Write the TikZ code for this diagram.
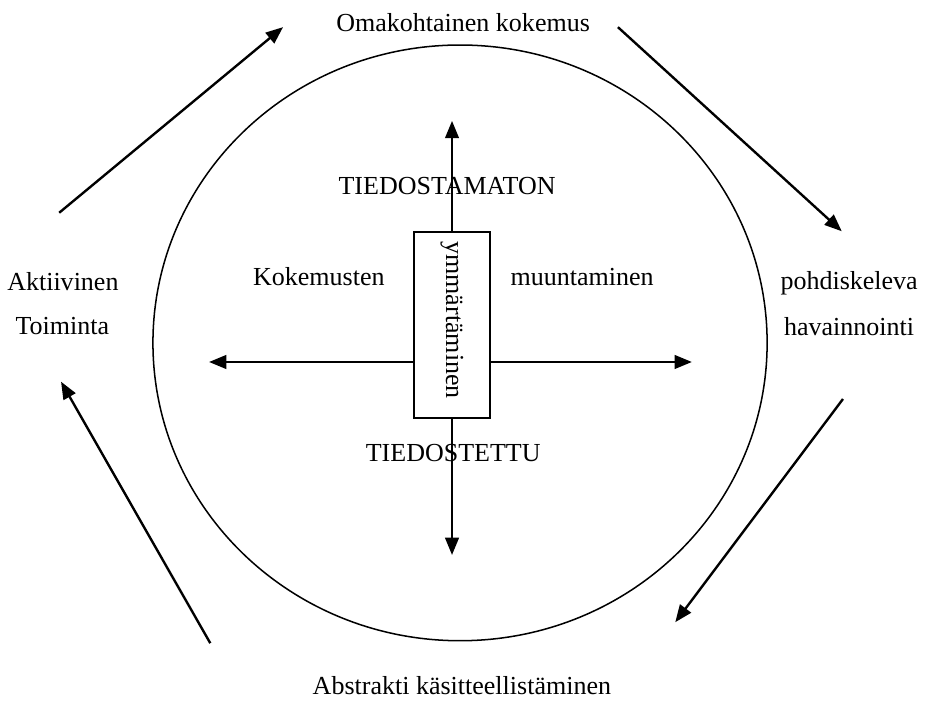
\documentclass[tikz,border=0pt,12pt]{standalone}
\usepackage{fontspec}
\setmainfont{Liberation Serif}
\usepackage{tikz}
\usetikzlibrary{
    arrows.meta,
    calc,
    positioning
}

\begin{document}
\begin{tikzpicture}[>={Triangle[length=2.8mm,width=2.2mm]}]
                        \useasboundingbox (0, 0) rectangle (15, -11.40);
                        \draw[line width=0.7pt] (7.46, -5.56) ellipse (4.98 and 4.83);

                        \node at (7.51, -0.36) {Omakohtainen kokemus};
                        \node at (7.49, -11.12) {Abstrakti käsitteellistäminen};
                        \node at (1.02, -4.57) {Aktiivinen};
                        \node at (1.01, -5.29) {Toiminta};
                        \node at (13.77, -4.59) {pohdiskeleva};
                        \node at (13.77, -5.29) {havainnointi};
                        \node at (5.17, -4.49) {Kokemusten};
                        \node at (9.44, -4.49) {muuntaminen};
                        \node at (7.25, -3.02) {TIEDOSTAMATON};
                        \node at (7.35, -7.35) {TIEDOSTETTU};

                        \node[draw, line width=0.9pt, fill=white, minimum width=1.22cm, minimum height=3.02cm] (ymm) at (7.33, -5.27) {};
                        \node[rotate=-90] at ($(ymm.center) + (0, 0.08)$) {ymmärtäminen};

                        \coordinate (ntip) at (7.33, -1.96);
                        \coordinate (stip) at (7.33, -9.00);
                        \coordinate (wtip) at (3.39, -5.87);
                        \coordinate (etip) at (11.22, -5.87);

                        \coordinate (a1) at (0.96, -3.45);
                        \coordinate (b1) at (4.59, -0.44);
                        \coordinate (a2) at (10.02, -0.44);
                        \coordinate (b2) at (13.65, -3.75);
                        \coordinate (a3) at (13.67, -6.47);
                        \coordinate (b3) at (10.95, -10.09);
                        \coordinate (a4) at (3.41, -10.43);
                        \coordinate (b4) at (0.99, -6.19);

                        \draw[line width=1.1pt]
                        (ymm.north) edge[->] (ntip)
                        (ymm.south) edge[->] (stip)
                        (ymm.west |- wtip) edge[->] (wtip)
                        (ymm.east |- etip) edge[->] (etip)
                        (a1) edge[->] (b1)
                        (a2) edge[->] (b2)
                        (a3) edge[->] (b3)
                        (a4) edge[->] (b4);
                    \end{tikzpicture}
\end{document}
